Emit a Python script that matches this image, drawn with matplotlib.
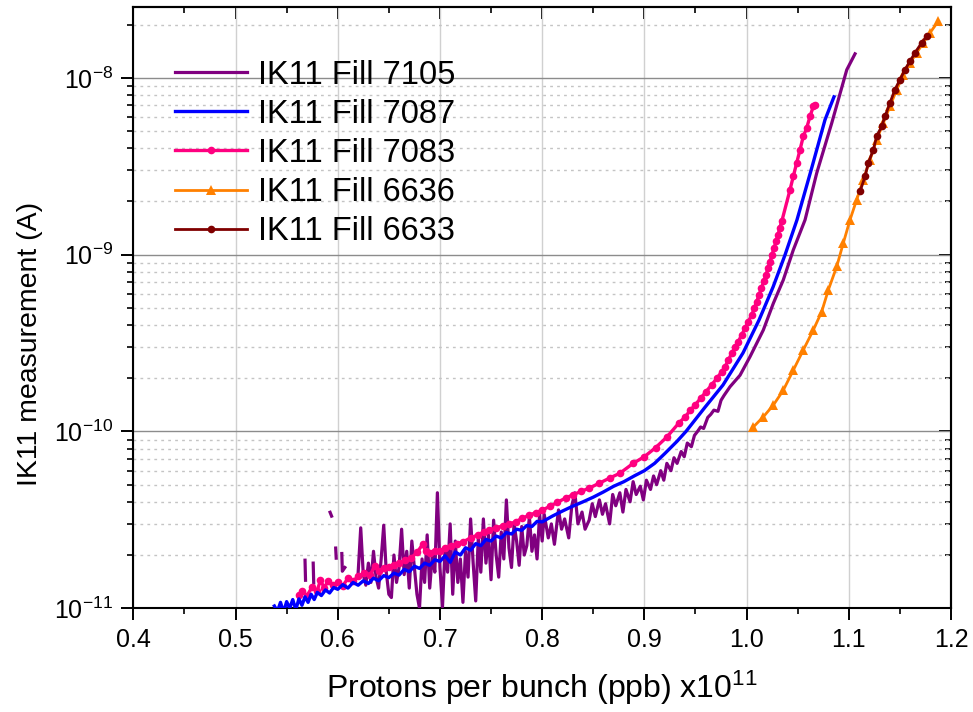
import numpy as np
import matplotlib
matplotlib.use("Agg")
import matplotlib.pyplot as plt
from matplotlib.ticker import MultipleLocator, FixedLocator, NullFormatter, LogFormatterMathtext

plt.rcParams['font.family'] = ['Liberation Sans', 'DejaVu Sans']
plt.rcParams['mathtext.fontset'] = 'custom'
plt.rcParams['mathtext.rm'] = 'Liberation Sans'
plt.rcParams['mathtext.default'] = 'regular'

nan = np.nan
# ---- data (x in 1e11 ppb, current in pA) ----
x_7105 = [0.568, 0.5685, nan, 0.576, 0.5765, nan, 0.5925, 0.594, nan, 0.598, 0.5985, nan,
          0.604, 0.6045, 0.607, nan,
          0.6200, 0.6225, 0.6250, 0.6275, 0.6300, 0.6325, 0.6350, 0.6375, 0.6400, 0.6425,
          0.6450, 0.6475, 0.6500, 0.6525, 0.6550, 0.6575, 0.6600, 0.6625, 0.6650, 0.6675,
          0.6700, 0.6725, 0.6750, 0.6775, 0.6800, 0.6825, 0.6850, 0.6875, 0.6900, 0.6925,
          0.6950, 0.6975, 0.7000, 0.7025, 0.7050, 0.7075, 0.7100, 0.7125, 0.7150, 0.7175,
          0.7200, 0.7225, 0.7250, 0.7275, 0.7300, 0.7325, 0.7350, 0.7375, 0.7400, 0.7425,
          0.7450, 0.7475, 0.7500, 0.7525, 0.7550, 0.7575, 0.7600, 0.7625, 0.7650, 0.7675,
          0.7700, 0.7725, 0.7750, 0.7775, 0.7800, 0.7825, 0.7850, 0.7875, 0.7900, 0.7925,
          0.7950, 0.7975, 0.8000,
          0.802, 0.806, 0.809, 0.812,
          0.816, 0.819, 0.822, 0.826, 0.829, 0.832, 0.835, 0.839, 0.842, 0.846, 0.849, 0.852,
          0.856, 0.859, 0.862, 0.866, 0.869, 0.872, 0.876, 0.879, 0.882, 0.886, 0.889, 0.892,
          0.896, 0.899, 0.902, 0.906, 0.909, 0.912, 0.916, 0.919, 0.922, 0.926, 0.929, 0.932,
          0.936, 0.939, 0.942, 0.946, 0.949, 0.952, 0.955, 0.958, 0.962, 0.965, 0.968, 0.972,
          0.975, 0.978, 0.9838, 0.9936, 1.0034, 1.0164, 1.0262, 1.0359, 1.0457, 1.0572,
          1.0686, 1.0833, 1.0980, 1.1061]
y_7105 = [18.7, 14.4, nan, 18.0, 13.9, nan, 34.9, 33.2, nan, 21.9, 19.2, nan,
          20.4, 16.2, 17.0, nan,
          16, 28.5, 15.5, 13.5, 18, 14, 21, 15, 13, 19,
          29.5, 16, 12, 11.5, 20, 14, 17, 28, 15.5, 21,
          13, 24, 17, 12, 10, 19, 14, 26, 13, 20,
          16, 45, 17, 10.2, 22, 16, 30, 12, 24, 14,
          19, 10.8, 21, 15, 32, 18, 11, 25, 16, 32,
          18, 26, 14.5, 31.5, 20, 15, 27, 19, 41, 22,
          17, 30, 24, 17.5, 29, 20, 22.6, 33, 21, 26,
          19, 34, 24,
          34, 25, 30, 23,
          36, 28, 32, 25, 38, 45, 30, 35, 28, 31.5, 39, 33,
          41, 34, 39, 30, 44, 38, 45, 35, 47, 40, 52, 44,
          49, 41, 53, 47, 56, 50, 60, 53, 66, 60, 71, 66,
          77, 72, 86, 82, 95, 100, 106, 104, 120, 125, 132, 130,
          150, 160, 179, 208, 265, 375, 531, 719, 1063, 1572,
          2890, 5545, 11100, 13670]

x_7087 = [0.538, 0.541, 0.544, 0.547, 0.550, 0.553, 0.556, 0.559, 0.562, 0.565, 0.568, 0.571,
          0.574, 0.577, 0.580, 0.584, 0.588, 0.592, 0.596, 0.600, 0.605, 0.610, 0.615, 0.620,
          0.625, 0.630, 0.635, 0.640, 0.645, 0.650, 0.655, 0.660, 0.665, 0.670, 0.675, 0.680,
          0.685, 0.690, 0.695, 0.700, 0.705, 0.710, 0.715, 0.720, 0.725, 0.730, 0.735, 0.740,
          0.745, 0.750, 0.755, 0.760, 0.765, 0.770, 0.775, 0.780, 0.785, 0.790, 0.795, 0.800,
          0.810, 0.820, 0.830, 0.840, 0.850, 0.860, 0.870, 0.880, 0.890, 0.900, 0.910, 0.920,
          0.932, 0.9407, 0.9593, 0.9769, 0.9965, 1.0122, 1.0259, 1.0376, 1.0493, 1.0640,
          1.0767, 1.0855]
y_7087 = [10.3, 9.6, 10.8, 9.5, 10.9, 10.0, 11.2, 9.8, 11.3, 10.4, 11.6, 10.8,
          12.0, 11.2, 12.3, 11.8, 12.7, 12.2, 13.1, 12.8, 13.6, 13.0, 14.0, 13.5,
          14.3, 13.8, 14.8, 14.3, 15.3, 14.9, 15.8, 15.4, 16.6, 16.1, 17.3, 16.8,
          18.0, 17.5, 18.8, 18.4, 19.8, 18.2, 20.8, 20.0, 22.0, 21.3, 23.2, 22.6,
          24.5, 24.0, 25.6, 25.0, 26.8, 26.3, 28.0, 27.6, 29.4, 29.0, 31.0, 30.8,
          33.2, 35.5, 37.8, 40.0, 42.5, 45.5, 49, 52, 56, 60, 66, 75,
          88, 100, 137, 183, 278, 427, 656, 996, 1572, 3134,
          5783, 7806]

x_7083 = [0.562, 0.565, 0.570, 0.575, 0.580, 0.583, 0.587, 0.590, 0.595, 0.600, 0.605, 0.610,
          0.615, 0.620, 0.626, 0.632, 0.636, 0.640, 0.645, 0.650, 0.655, 0.660, 0.666, 0.672,
          0.678, 0.683, 0.686, 0.690, 0.695, 0.700, 0.705, 0.711, 0.717, 0.723, 0.730, 0.737,
          0.743, 0.748, 0.755, 0.762, 0.768, 0.774, 0.780, 0.787, 0.794, 0.800, 0.808, 0.815,
          0.823, 0.830, 0.838, 0.846, 0.856, 0.866, 0.876, 0.889, 0.900, 0.911, 0.922, 0.934,
          0.940, 0.945, 0.950, 0.955, 0.960, 0.966, 0.971,
          0.9757, 0.9789, 0.9821, 0.9855, 0.9887, 0.9919, 0.9952, 0.9985, 1.0017, 1.0050,
          1.0076, 1.0099, 1.0122, 1.0144, 1.0168, 1.0190, 1.0210, 1.0229, 1.0249, 1.0268,
          1.0288, 1.0308, 1.0324, 1.0344, 1.0425, 1.0457, 1.0490, 1.0523, 1.0555, 1.0588,
          1.0621, 1.0653, 1.0670]
y_7083 = [11.9, 12.5, 11.8, 13.2, 12.6, 14.4, 13.0, 14.2, 13.5, 14.0, 13.4, 14.8,
          14.2, 15.2, 15.8, 15.4, 17.4, 16.3, 16.8, 17.2, 17.6, 18.0, 18.7, 19.3,
          20.8, 23.0, 21.0, 20.6, 21.2, 21.0, 21.8, 22.5, 23.2, 23.8, 25.0, 26.0,
          27.0, 27.7, 28.5, 29.3, 30.0, 30.8, 32.2, 33.5, 34.8, 35.9, 37.8, 39.8,
          42, 43.8, 45.8, 47.8, 51, 54.5, 58, 66, 72, 81, 93, 112,
          121, 132, 142, 154, 167, 184, 200,
          218, 232, 253, 277, 301, 322, 352, 383, 418, 456,
          498, 542, 591, 646, 705, 769, 838, 914, 997, 1088,
          1187, 1295, 1413, 1540, 2329, 2770, 3300, 3925, 4670, 5210,
          6060, 6900, 7060]

x_6636 = [1.0066, 1.0164, 1.0262, 1.0359, 1.0457, 1.0555, 1.0653, 1.0735, 1.0800, 1.0882,
          1.0946, 1.1012, 1.1077, 1.1142, 1.1208, 1.1273, 1.1338, 1.1403, 1.1469, 1.1533,
          1.1599, 1.1665, 1.1729, 1.1795, 1.1876]
y_6636 = [106, 121, 141, 171, 222, 289, 375, 476, 632, 857,
          1161, 1574, 2043, 2654, 3443, 4471, 5559, 6902, 8585, 10440,
          12160, 13860, 15780, 17990, 20930]

x_6633 = [1.1110, 1.1159, 1.1191, 1.1240, 1.1273, 1.1322, 1.1354, 1.1403, 1.1452, 1.1501,
          1.1550, 1.1599, 1.1648, 1.1713, 1.1762]
y_6633 = [2278, 2770, 3300, 3925, 4670, 5320, 6060, 7220, 8590, 9780,
          11140, 12420, 13860, 15780, 17210]

labels = ['IK11 Fill 7105', 'IK11 Fill 7087', 'IK11 Fill 7083', 'IK11 Fill 6636', 'IK11 Fill 6633']
x_ticks = [0.4, 0.5, 0.6, 0.7, 0.8, 0.9, 1.0, 1.1, 1.2]
x_ticklabels = ['0.4', '0.5', '0.6', '0.7', '0.8', '0.9', '1.0', '1.1', '1.2']
y_ticks = [1e-11, 1e-10, 1e-9, 1e-8]
y_minor = [m * d for d in [1e-11, 1e-10, 1e-9] for m in range(2, 10)] + [2e-8]

PA = 1e-12

fig = plt.figure(figsize=(9.73, 7.12), dpi=100)
ax = fig.add_axes([0.137, 0.1457, 0.8404, 0.8438])

ax.plot(x_7105, np.array(y_7105) * PA, color='#800080', lw=2.3, zorder=3, label=labels[0])
ax.plot(x_7083, np.array(y_7083) * PA, color='#FF0080', lw=2.4, marker='o', ms=5.5,
        markeredgewidth=0, zorder=4, label=labels[2])
ax.plot(x_7087, np.array(y_7087) * PA, color='#0000FF', lw=2.4, zorder=5, label=labels[1])
ax.plot(x_6636, np.array(y_6636) * PA, color='#FF8000', lw=2.0, marker='^', ms=7,
        markeredgewidth=0, zorder=6, label=labels[3])
ax.plot(x_6633, np.array(y_6633) * PA, color='#800000', lw=2.0, marker='o', ms=5.5,
        markeredgewidth=0, zorder=7, label=labels[4])

ax.set_yscale('log')
ax.set_xlim(0.4, 1.2)
ax.set_ylim(1e-11, 2.5e-8)

ax.set_xticks(x_ticks)
ax.set_xticklabels(x_ticklabels)
ax.xaxis.set_minor_locator(MultipleLocator(0.05))
ax.yaxis.set_major_locator(FixedLocator(y_ticks))
ax.yaxis.set_major_formatter(LogFormatterMathtext())
ax.yaxis.set_minor_locator(FixedLocator(y_minor))
ax.yaxis.set_minor_formatter(NullFormatter())

ax.tick_params(which='major', direction='out', length=8.5, width=1.4, labelsize=18, pad=6)
ax.tick_params(which='minor', direction='out', length=4, width=1.2)

ax.grid(which='major', axis='x', color='#d0d0d0', lw=1.0, zorder=0)
ax.grid(which='major', axis='y', color='#8c8c8c', lw=1.0, zorder=0)
ax.grid(which='minor', axis='y', color='#c4c4c4', lw=1.0, ls=(0, (2, 3)), zorder=0)
ax.set_axisbelow(True)

for s in ax.spines.values():
    s.set_linewidth(1.5)

# top and right inward ticks
axt = ax.secondary_xaxis('top')
axt.set_xticks(x_ticks)
axt.xaxis.set_minor_locator(MultipleLocator(0.05))
axt.tick_params(which='major', direction='in', length=8.5, width=1.4, labeltop=False)
axt.tick_params(which='minor', direction='in', length=4, width=1.2)
axt.spines['top'].set_linewidth(1.5)

axr = ax.secondary_yaxis('right')
axr.yaxis.set_major_locator(FixedLocator(y_ticks))
axr.yaxis.set_minor_locator(FixedLocator(y_minor))
axr.yaxis.set_major_formatter(NullFormatter())
axr.yaxis.set_minor_formatter(NullFormatter())
axr.tick_params(which='major', direction='in', length=8.5, width=1.4, labelright=False)
axr.tick_params(which='minor', direction='in', length=4, width=1.2)
axr.spines['right'].set_linewidth(1.5)

ax.set_xlabel('Protons per bunch (ppb) x10$^{11}$', fontsize=23, labelpad=12)
ax.set_ylabel('IK11 measurement (A)', fontsize=20.5)
ax.yaxis.set_label_coords(-0.11, 0.44)

h, l = ax.get_legend_handles_labels()
order = [l.index(s) for s in labels]
leg = ax.legend([h[i] for i in order], [l[i] for i in order], loc='upper left',
                bbox_to_anchor=(0.035, 0.935), frameon=False, fontsize=23.5,
                handlelength=2.2, handletextpad=0.33, labelspacing=0.25, numpoints=1,
                borderaxespad=0)

fig.savefig('out.png', dpi=100)
